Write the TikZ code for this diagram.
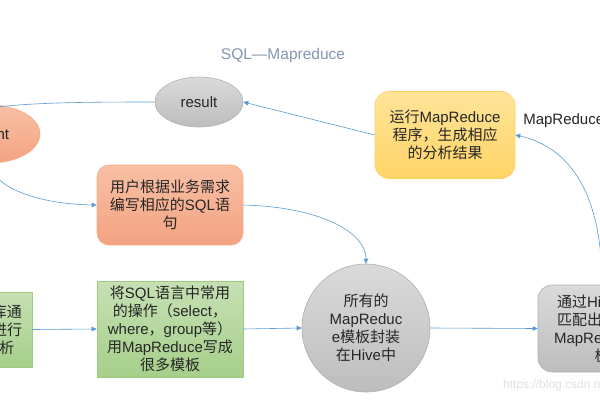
\documentclass[tikz,border=0pt]{standalone}
\usepackage{fontspec}
\setmainfont{Liberation Sans}
\newfontfamily\cjk{Noto Sans CJK SC}
\usetikzlibrary{arrows.meta,shapes.geometric}
\definecolor{arrowblue}{HTML}{5B9BD5}
\definecolor{titlecol}{HTML}{8497B0}
\definecolor{txt}{HTML}{262626}
\definecolor{grayT}{HTML}{DADADA}
\definecolor{grayB}{HTML}{BDBDBD}
\definecolor{grayL}{HTML}{B0B0B0}
\definecolor{orT}{HTML}{F8C0A4}
\definecolor{orB}{HTML}{F4A282}
\definecolor{orL}{HTML}{F4B183}
\definecolor{yeT}{HTML}{FFE499}
\definecolor{yeB}{HTML}{FFD466}
\definecolor{yeL}{HTML}{FFD060}
\definecolor{grT}{HTML}{C6E0B4}
\definecolor{grB}{HTML}{A6CF8A}
\definecolor{grL}{HTML}{9CCB7C}
\tikzset{
  base/.style={align=center, text=txt, font=\fontsize{15}{18}\selectfont, line width=0.6pt, inner sep=2pt},
  grayfill/.style={top color=grayT, bottom color=grayB, draw=grayL},
  orfill/.style={top color=orT, bottom color=orB, draw=orL},
  yefill/.style={top color=yeT, bottom color=yeB, draw=yeL},
  grfill/.style={top color=grT, bottom color=grB, draw=grL},
  conn/.style={draw=arrowblue, line width=0.6pt, -{Triangle[length=5pt,width=4.5pt]}},
}
\begin{document}
\begin{tikzpicture}[x=1pt,y=-1pt]
\useasboundingbox (0,0) rectangle (600,400);
\clip (0,0) rectangle (600,400);
\fill[white] (0,0) rectangle (600,400);

\node[text=titlecol, font=\fontsize{15.5}{18}\selectfont] (title) at (283,55) {SQL—Mapreduce};

\node[base, grayfill, ellipse, minimum width=88pt, minimum height=50pt] (result) at (199,102) {result};
\node[base, orfill, ellipse, minimum width=100pt, minimum height=58pt] (client) at (-10,134) {Client};
\node[base, orfill, rounded corners=12pt, minimum width=146pt, minimum height=80pt] (sqlbox) at (170,205)
  {{\cjk 用户根据业务需求}\\{\cjk 编写相应的}SQL{\cjk 语}\\{\cjk 句}};
\node[base, yefill, rounded corners=14pt, minimum width=140pt, minimum height=87pt] (runbox) at (445,135)
  {{\cjk 运行}MapReduce\\{\cjk 程序，生成相应}\\{\cjk 的分析结果}};
\node[base, grfill, minimum width=95pt, minimum height=75pt] (dwbox) at (-15.5,329.5)
  {{\cjk 数据仓库通}\\{\cjk 过}SQL{\cjk 进行}\\{\cjk 统计分析}};
\node[base, grfill, minimum width=146pt, minimum height=96pt] (tplbox) at (170,329)
  {{\cjk 将}SQL{\cjk 语言中常用}\\{\cjk 的操作（}select{\cjk ，}\\where{\cjk ，}group{\cjk 等）}\\{\cjk 用}MapReduce{\cjk 写成}\\{\cjk 很多模板}};
\node[base, grayfill, circle, minimum size=128pt] (hivecirc) at (366,328)
  {{\cjk 所有的}\\MapReduc\\e{\cjk 模板封装}\\{\cjk 在}Hive{\cjk 中}};
\node[base, grayfill, rounded corners=14pt, minimum width=128pt, minimum height=87pt] (matchbox) at (602,328.5)
  {{\cjk 通过}Hive{\cjk 框架}\\{\cjk 匹配出相应的}\\MapReduce{\cjk 模}\\{\cjk 板}};

\node[base, anchor=west, inner sep=0pt] (mrlabel) at (523,121) {MapReduce};
\node[anchor=west, text=black!12, font=\fontsize{12}{14}\selectfont, inner sep=0pt] (wm) at (503,385) {https://blog.csdn.net/w};

\draw[conn] (result.west) .. controls (60,102) and (10,103) .. (client.150);
\draw[conn] (client.south) .. controls (-8,186) and (35,204) .. (sqlbox.west);
\draw[conn] (sqlbox.east) .. controls (320,207) and (366,232) .. (hivecirc.north);
\draw[conn] (dwbox.east) -- (tplbox.west);
\draw[conn] (tplbox.east) -- (hivecirc.west);
\draw[conn] (hivecirc.east) -- (matchbox.west);
\draw[conn] (matchbox.north) .. controls (602,180) and (560,145) .. (runbox.east);
\draw[conn] (runbox.west) -- (result.east);
\end{tikzpicture}
\end{document}
